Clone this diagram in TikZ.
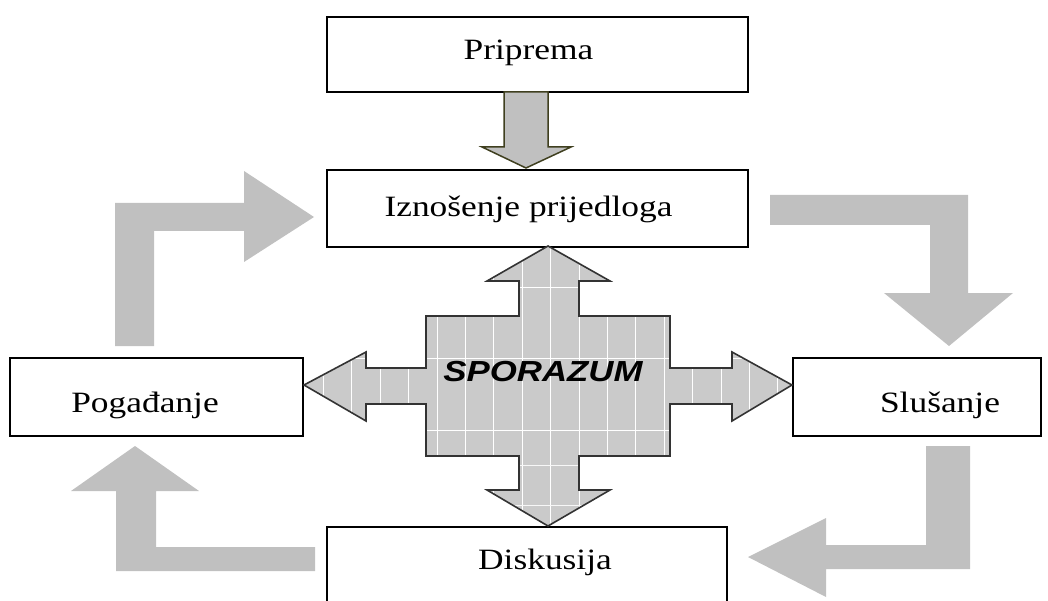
\documentclass[tikz,border=0pt]{standalone}
\usepackage{fontspec}
\setmainfont{Liberation Serif}
\setsansfont{Liberation Sans}
\usepackage{graphicx}
\definecolor{bentgray}{HTML}{C0C0C0}
\definecolor{crossgray}{HTML}{CACACA}
\definecolor{crossedge}{HTML}{333333}
\definecolor{olive}{HTML}{3F3F1F}
\tikzset{
  box/.style={draw=black, line width=2.5pt, fill=white, inner sep=0pt},
  lbl/.style={anchor=base, inner sep=0pt, font=\fontsize{29.5}{34}\selectfont},
  bent/.style={fill=bentgray, draw=none},
}
\newcommand{\wide}[1]{\scalebox{1.2}[1]{#1}}
\begin{document}
\begin{tikzpicture}[x=1pt,y=-1pt]
\useasboundingbox (0,0) rectangle (1048,601);
% boxes
\node[box, minimum width=421pt, minimum height=75pt] (pri) at (537.5,54.5) {};
\node[box, minimum width=421pt, minimum height=77pt] (izn) at (537.5,208.5) {};
\node[box, minimum width=293pt, minimum height=78pt] (pog) at (156.5,397) {};
\node[box, minimum width=248pt, minimum height=78pt] (slu) at (917,397) {};
\node[box, minimum width=400pt, minimum height=90pt] (dis) at (527,572) {};
% texts
\node[lbl] (tpri) at (528.5,60) {\wide{Priprema}};
\node[lbl] (tizn) at (528.5,217) {\wide{Iznošenje prijedloga}};
\node[lbl] (tpog) at (145,412) {\wide{Pogađanje}};
\node[lbl] (tslu) at (940,412) {\wide{Slušanje}};
\node[lbl] (tdis) at (545,569) {\wide{Diskusija}};
% Priprema -> Iznosenje arrow
\draw[fill=bentgray, draw=olive, line width=1.5pt, line join=miter]
  (504,92) -- (548,92) -- (548,147) -- (571,147) -- (526,168) -- (482,147) -- (504,147) -- cycle;
% bent cycle arrows
\fill[bent] (115,346) -- (115,203) -- (244,203) -- (244,171) -- (314,217) -- (244,262) -- (244,231) -- (154,231) -- (154,346) -- cycle;
\fill[bent] (770,195) -- (968,195) -- (968,293) -- (1013,293) -- (949,346) -- (884,293) -- (930,293) -- (930,225) -- (770,225) -- cycle;
\fill[bent] (926,446) -- (970,446) -- (970,569) -- (826,569) -- (826,597) -- (748,557) -- (826,518) -- (826,545) -- (926,545) -- cycle;
\fill[bent] (315,547) -- (315,571) -- (116,571) -- (116,491) -- (71,491) -- (135,446) -- (199,491) -- (156,491) -- (156,547) -- cycle;
% central cross
\def\crosspath{(548,246) -- (610,281) -- (579,281) -- (579,316) -- (670,316) -- (670,368) -- (732,368) -- (732,352) -- (792,385) -- (732,421) -- (732,404) -- (670,404) -- (670,456) -- (579,456) -- (579,490) -- (610,490) -- (548,526) -- (487,490) -- (519,490) -- (519,456) -- (426,456) -- (426,404) -- (366,404) -- (366,421) -- (304,385) -- (366,352) -- (366,368) -- (426,368) -- (426,316) -- (519,316) -- (519,281) -- (487,281) -- cycle}
\fill[crossgray] \crosspath;
\begin{scope}
\clip \crosspath;
\foreach \k in {-5,...,13} {
  \draw[white, line width=0.9pt] ({437+28.4*\k},240) -- ({437+28.4*\k},530);
}
\foreach \yy in {287,358,430} {
  \draw[white, line width=0.9pt] (300,\yy) -- (800,\yy);
}
\foreach \yy in {465,505} {
  \draw[white!85!crossgray, line width=0.7pt] (300,\yy) -- (800,\yy);
}
\end{scope}
\draw[crossedge, line width=1.6pt, line join=miter] \crosspath;
\node[anchor=base, inner sep=0pt, font=\sffamily\bfseries\itshape\fontsize{29}{34}\selectfont] (spo) at (543,381) {\wide{SPORAZUM}};
\end{tikzpicture}
\end{document}
